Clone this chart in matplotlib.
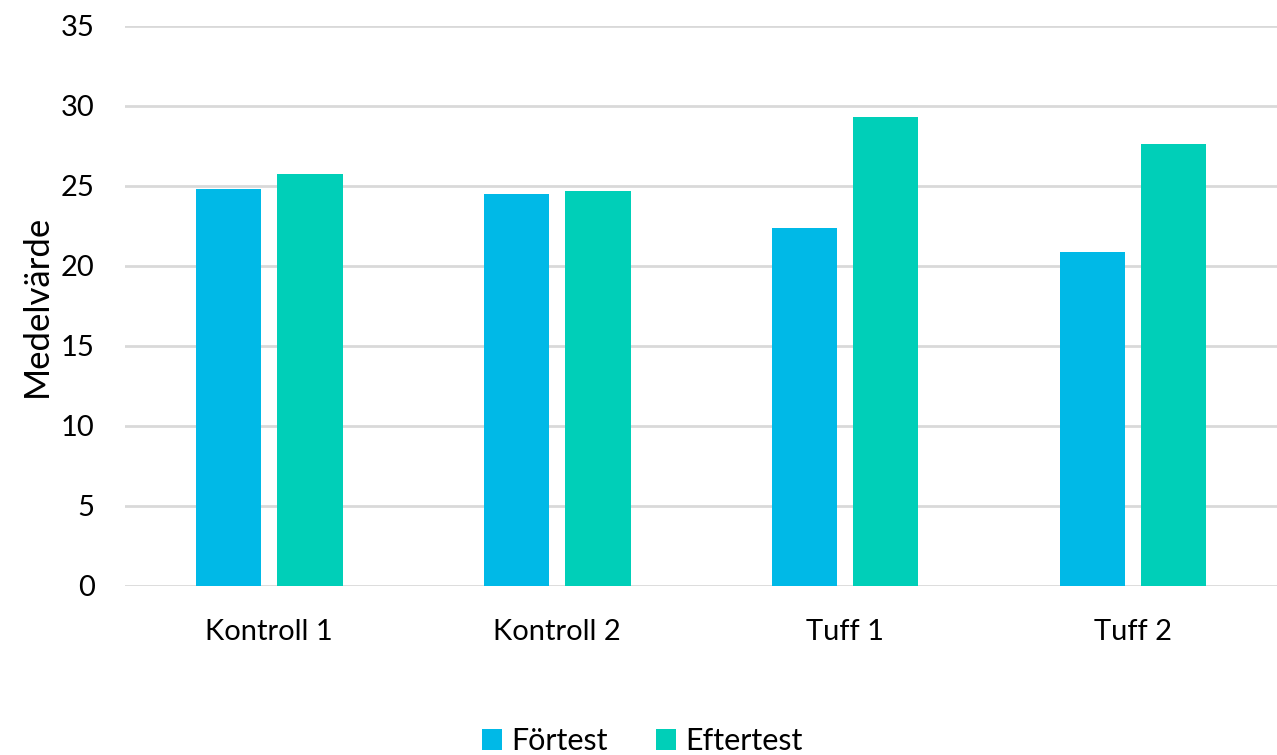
import matplotlib.pyplot as plt
import numpy as np

plt.rcParams['font.family'] = ['Lato', 'DejaVu Sans']

categories = ['Kontroll 1', 'Kontroll 2', 'Tuff 1', 'Tuff 2']
fortest = [24.8, 24.5, 22.4, 20.9]
eftertest = [25.75, 24.7, 29.3, 27.6]

fig = plt.figure(figsize=(12.77, 7.55), dpi=100)
ax = fig.add_axes([0.098, 0.224, 0.902, 0.7416])

x = np.arange(len(categories))
w = 0.226
off = 0.142
ax.bar(x - off, fortest, w, color='#00B9E7', label='Förtest', zorder=3)
ax.bar(x + off, eftertest, w, color='#00CFB8', label='Eftertest', zorder=3)

ax.set_xlim(-0.5, 3.5)
ax.set_ylim(0, 35)
ax.set_yticks(range(0, 36, 5))
ax.set_xticks(x)
ax.set_xticklabels(categories, fontsize=21.5)
ax.yaxis.grid(True, color='#D9D9D9', linewidth=2, zorder=0)
for s in ax.spines.values():
    s.set_visible(False)
ax.tick_params(axis='both', length=0, labelsize=21, colors='black')
ax.tick_params(axis='x', pad=24)
ax.tick_params(axis='y', pad=22)
ax.set_ylabel('Medelvärde', fontsize=25, labelpad=6)

ax.legend(loc='lower center', bbox_to_anchor=(0.449, -0.335), ncol=2, frameon=False,
          fontsize=22, handlelength=0.65, handleheight=0.65, handletextpad=0.3,
          columnspacing=1.6, borderpad=0.1)

plt.savefig('out.png', dpi=100)
